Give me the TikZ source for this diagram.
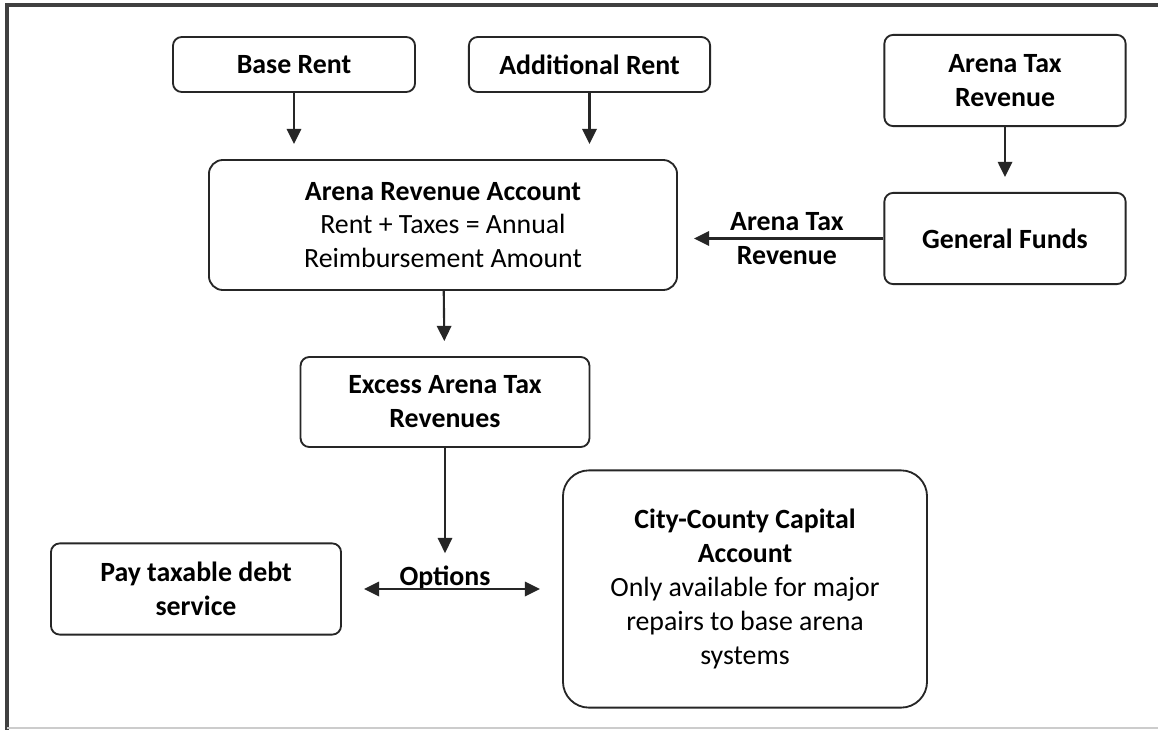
\documentclass[tikz,border=0pt]{standalone}
\usepackage{fontspec}
\setmainfont{Carlito}
\usetikzlibrary{arrows.meta}

\tikzset{
  box/.style={draw=black!85, line width=1.3pt, rounded corners=0.22cm,
    align=center, inner sep=0pt, font=\fontsize{19.8}{24.1}\selectfont},
  flow/.style={draw=black!85, line width=1.5pt,
    -{Triangle[width=0.36cm,length=0.38cm]}, shorten >=0.375cm},
  twoway/.style={draw=black!85, line width=1.5pt,
    {Triangle[width=0.36cm,length=0.38cm]}-{Triangle[width=0.36cm,length=0.38cm]},
    shorten <=0.55cm, shorten >=0.55cm},
}

\begin{document}
\begin{tikzpicture}[x=0.025cm, y=-0.025cm]
    \useasboundingbox (0,0) rectangle (1158,730);
    \fill[white] (0,0) rectangle (1158,730);
    % page frame
    \draw[black!75, line width=2.4pt] (7,730) -- (7,5) -- (1158,5);
    \draw[black!20, line width=0.8pt] (7,728) -- (1158,728);

    % sources
    \node[box, minimum width=6.05cm, minimum height=1.375cm] (base) at (294,64.5)
        {\textbf{Base Rent}};
    \node[box, minimum width=6.03cm, minimum height=1.375cm] (addl) at (589.5,64.5)
        {\textbf{Additional Rent}};
    \node[box, minimum width=6.03cm, minimum height=2.28cm] (atr) at (1005,80.5)
        {\textbf{Arena Tax}\\\textbf{Revenue}};
    \node[box, minimum width=6.03cm, minimum height=2.28cm] (gf) at (1005,238.5)
        {\textbf{General Funds}};

    % accounts
    \node[box, rounded corners=0.35cm, minimum width=11.7cm, minimum height=3.25cm] (ara) at (443,225)
        {\textbf{Arena Revenue Account}\\Rent + Taxes = Annual\\Reimbursement Amount};
    \node[box, minimum width=7.22cm, minimum height=2.25cm] (exc) at (445,402)
        {\textbf{Excess Arena Tax}\\\textbf{Revenues}};
    \node[anchor=base, inner sep=0pt, font=\fontsize{19.8}{24.1}\selectfont\bfseries] (opts) at (445,585)
        {Options};
    \node[box, minimum width=7.25cm, minimum height=2.28cm] (pay) at (196,589)
        {\textbf{Pay taxable debt}\\\textbf{service}};
    \node[box, rounded corners=0.65cm, minimum width=9.1cm, minimum height=5.93cm] (city) at (745,589)
        {\textbf{City-County Capital}\\\textbf{Account}\\Only available for major\\repairs to base arena\\systems};

    % arrows
    \draw[flow] (base) -- (base |- ara.north);
    \draw[flow] (addl) -- (addl |- ara.north);
    \draw[flow] (atr) -- (gf);
    \draw[flow, shorten >=0.4cm] (gf) -- (gf -| ara.east)
        node[pos=0.47, align=center, font=\fontsize{19.8}{24.1}\selectfont\bfseries] {Arena Tax\\Revenue};
    \draw[flow] (ara) -- (exc);
    \draw[flow, shorten >=0.3cm] (exc) -- (opts);
    \draw[twoway] (pay) -- (city);
\end{tikzpicture}
\end{document}
